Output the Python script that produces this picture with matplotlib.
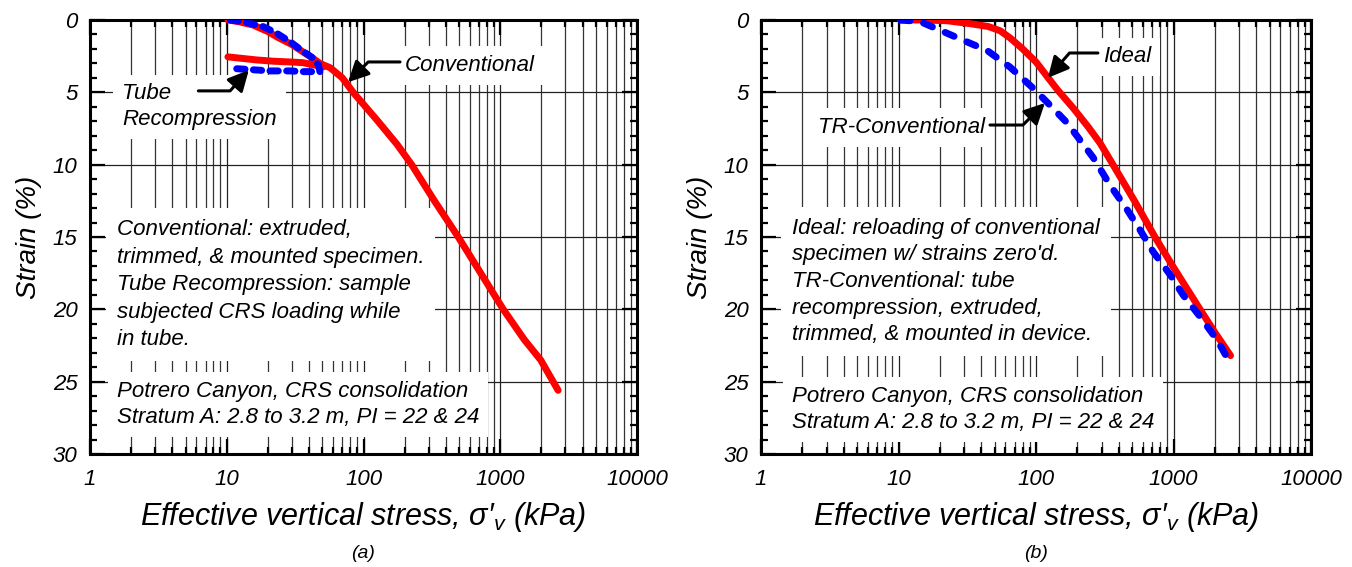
import matplotlib.pyplot as plt
from matplotlib.ticker import MultipleLocator, LogLocator, NullFormatter

plt.rcParams['font.family'] = ['Liberation Sans', 'DejaVu Sans']
plt.rcParams['font.style'] = 'italic'
plt.rcParams['mathtext.fontset'] = 'custom'
plt.rcParams['mathtext.rm'] = 'Liberation Sans:italic'
plt.rcParams['mathtext.it'] = 'Liberation Sans:italic'

# ---- panel (a) ----
conv_x = [10.2, 12, 15.6, 20, 23.3, 30, 36, 42, 48, 57, 70, 84, 125, 176, 225, 330,
          493, 720, 1052, 1500, 1975, 2650]
conv_y = [0, 0.1, 0.35, 0.8, 1.17, 1.7, 2.2, 2.6, 3.0, 3.3, 4.0, 5.0, 6.9, 8.6, 10.0, 12.5,
          15.0, 17.5, 20.0, 22.1, 23.5, 25.6]
conv_rl_x = [10.2, 12, 16.5, 22, 29, 36, 40.6, 46, 50.6]
conv_rl_y = [2.55, 2.62, 2.76, 2.85, 2.9, 2.95, 3.05, 3.15, 3.25]
tube_x = [10.6, 13.2, 18.5, 23.2, 29.0, 36.4, 43.0, 46.8, 48, 36.4, 29, 20.7, 14.0, 10.6]
tube_y = [0, 0.12, 0.46, 0.92, 1.5, 2.19, 2.65, 3.1, 3.57, 3.57, 3.52, 3.52, 3.41, 3.34]

# ---- panel (b) ----
ideal_x = [10.3, 15, 22.5, 33, 45, 55, 65, 80, 100, 125, 144, 187, 240, 292, 363, 520, 733,
           1000, 1559, 2000, 2600]
ideal_y = [0, 0, 0.05, 0.25, 0.45, 0.75, 1.25, 2.0, 2.9, 4.1, 4.85, 6.1, 7.4, 8.5, 10.0, 12.5,
           15.0, 17.1, 20.0, 21.6, 23.2]
trc_x = [10.3, 14.3, 20, 29.5, 44, 64.6, 95, 120, 168, 260, 345, 459, 570, 709, 944, 1173,
         1559, 2072, 2576]
trc_y = [0, 0.1, 0.7, 1.4, 2.1, 3.25, 4.7, 5.67, 7.1, 9.5, 11.4, 13.1, 14.5, 16.0, 17.6, 19.0,
         20.5, 22.1, 23.7]

xticks = [1, 10, 100, 1000, 10000]
xticklabels = ['1', '10', '100', '1000', '10000']
yticks = [0, 5, 10, 15, 20, 25, 30]
yticklabels = ['0', '5', '10', '15', '20', '25', '30']

W, H = 1352, 567
fig = plt.figure(figsize=(W / 100, H / 100), dpi=100)
ax1 = fig.add_axes([90 / W, 1 - 454 / H, 547 / W, 434 / H])
ax2 = fig.add_axes([761 / W, 1 - 454 / H, 550 / W, 434 / H])

box = dict(facecolor='white', edgecolor='none', boxstyle='square,pad=0.4')
arrow = dict(arrowstyle='-|>,head_length=0.9,head_width=0.45', color='black', lw=2.2,
             mutation_scale=14, shrinkA=0, shrinkB=0)
fs = 16


def setup(ax, tag):
    ax.set_xscale('log')
    ax.set_xlim(1, 10000)
    ax.set_ylim(30, 0)
    ax.set_xticks(xticks, xticklabels)
    ax.xaxis.set_minor_locator(LogLocator(base=10, subs=range(2, 10)))
    ax.xaxis.set_minor_formatter(NullFormatter())
    ax.set_yticks(yticks, yticklabels)
    ax.yaxis.set_minor_locator(MultipleLocator(1))
    ax.tick_params(which='both', direction='in', top=True, right=True, width=1.6, labelsize=16)
    ax.tick_params(which='major', length=11)
    ax.tick_params(which='minor', length=5)
    ax.tick_params(axis='x', pad=11)
    ax.tick_params(axis='y', pad=9)
    ax.grid(True, which='major', color='#222222', lw=0.9)
    ax.grid(True, which='minor', axis='x', color='#333333', lw=0.9)
    ax.set_axisbelow(True)
    for s in ax.spines.values():
        s.set_linewidth(2.2)
    ax.set_xlabel("Effective vertical stress, σ′$_{v}$ (kPa)", fontsize=22, labelpad=7)
    ax.set_ylabel('Strain (%)', fontsize=20, labelpad=8)
    ax.text(0.5, -0.21, tag, transform=ax.transAxes, ha='center', va='top', fontsize=14)


setup(ax1, '(a)')
setup(ax2, '(b)')

# panel (a)
ax1.plot(conv_x, conv_y, color='red', lw=5, solid_capstyle='round', solid_joinstyle='round', zorder=4)
ax1.plot(conv_rl_x, conv_rl_y, color='red', lw=5, solid_capstyle='round', zorder=4)
ax1.plot(tube_x, tube_y, color='blue', lw=5, ls=(0, (1.2, 1.2)), dash_capstyle='round', zorder=5)

ax1.text(0.576, 0.896, 'Conventional', transform=ax1.transAxes, fontsize=fs, va='center',
         bbox=box, zorder=3)
ax1.annotate('', xy=(77, 4.3), xytext=(185, 2.9),
             arrowprops=dict(arrow, connectionstyle='angle,angleA=180,angleB=45,rad=0'), zorder=6)
ax1.text(0.0585, 0.80, 'Tube\nRecompression', transform=ax1.transAxes, fontsize=fs,
         va='center', linespacing=1.3, bbox=box, zorder=3)
ax1.annotate('', xy=(14.5, 3.46), xytext=(6.2, 4.9),
             arrowprops=dict(arrow, connectionstyle='angle,angleA=0,angleB=48,rad=0'), zorder=6)
ax1.text(0.049, 0.39, 'Conventional: extruded,\ntrimmed, & mounted specimen.\n'
         'Tube Recompression: sample\nsubjected CRS loading while\nin tube.',
         transform=ax1.transAxes, fontsize=fs, va='center', linespacing=1.4,
         bbox=dict(box, boxstyle='square,pad=0.5'), zorder=3)
ax1.text(0.049, 0.114, 'Potrero Canyon, CRS consolidation\nStratum A: 2.8 to 3.2 m, PI = 22 & 24',
         transform=ax1.transAxes, fontsize=fs, va='center', linespacing=1.3, bbox=box, zorder=3)

# panel (b)
ax2.plot(ideal_x, ideal_y, color='red', lw=5, solid_capstyle='round', solid_joinstyle='round', zorder=4)
ax2.plot(trc_x, trc_y, color='blue', lw=5, ls=(0, (1.4, 2.0)), dash_capstyle='round', zorder=5)

ax2.text(0.622, 0.915, 'Ideal', transform=ax2.transAxes, fontsize=fs, va='center',
         bbox=box, zorder=3)
ax2.annotate('', xy=(122, 4.0), xytext=(282, 2.28),
             arrowprops=dict(arrow, connectionstyle='angle,angleA=180,angleB=49,rad=0'), zorder=6)
ax2.text(0.1036, 0.753, 'TR-Conventional', transform=ax2.transAxes, fontsize=fs, va='center',
         bbox=box, zorder=3)
ax2.annotate('', xy=(116, 5.74), xytext=(46.3, 7.26),
             arrowprops=dict(arrow, connectionstyle='angle,angleA=0,angleB=45,rad=0'), zorder=6)
ax2.text(0.0564, 0.3975, "Ideal: reloading of conventional\nspecimen w/ strains zero'd.\n"
         "TR-Conventional: tube\nrecompression, extruded,\ntrimmed, & mounted in device.",
         transform=ax2.transAxes, fontsize=fs, va='center', linespacing=1.35,
         bbox=dict(box, boxstyle='square,pad=0.5'), zorder=3)
ax2.text(0.0564, 0.1025, 'Potrero Canyon, CRS consolidation\nStratum A: 2.8 to 3.2 m, PI = 22 & 24',
         transform=ax2.transAxes, fontsize=fs, va='center', linespacing=1.3, bbox=box, zorder=3)

fig.savefig('out.png', dpi=100)
